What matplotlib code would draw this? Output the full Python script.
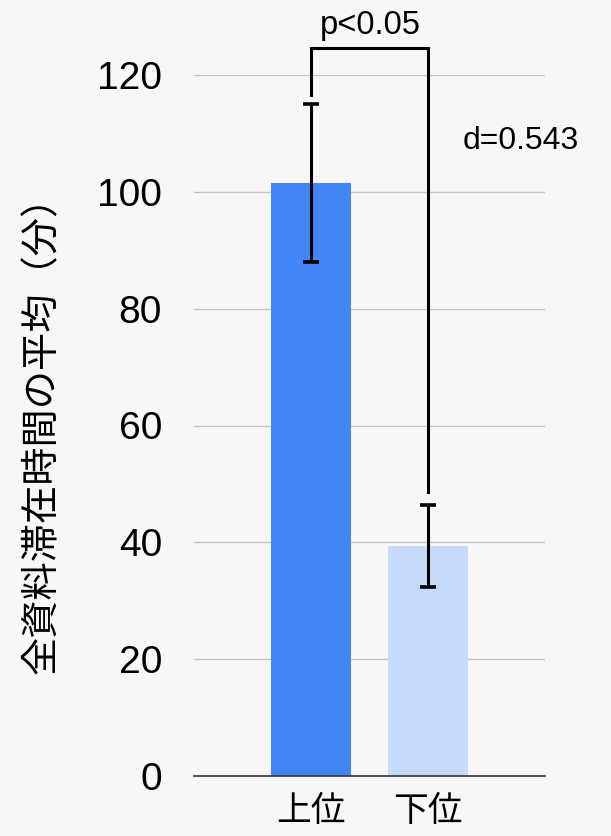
import matplotlib
matplotlib.use("Agg")
import matplotlib.pyplot as plt

plt.rcParams['font.family'] = ['Liberation Sans', 'Noto Sans CJK JP', 'DejaVu Sans']

# mean stay time per group, with error ranges
groups = ['上位', '下位']
means = [101.5, 39.4]
err_low = [88.0, 32.4]
err_high = [115.1, 46.4]
colors = ['#4285f4', '#c6dafc']

# significance bracket
bracket_top = 124.7
bracket_left_start = 116.6
bracket_right_end = 48.6
p_label = 'p<0.05'
d_label = 'd=0.543'

bg = '#f7f7f7'
fig = plt.figure(figsize=(6.11, 8.36), dpi=100, facecolor=bg)
ax = fig.add_axes([194 / 611, 1 - 776 / 836, 351 / 611, 701 / 836])
ax.set_facecolor(bg)

x = list(range(len(groups)))
ax.bar(x, means, width=0.68, color=colors, zorder=2)

yerr = [[m - lo for m, lo in zip(means, err_low)],
        [hi - m for m, hi in zip(means, err_high)]]
ax.errorbar(x, means, yerr=yerr, fmt='none', ecolor='black',
            elinewidth=2.2, capsize=5.5, capthick=2.6, zorder=3)

# bracket between the two groups
ax.plot([x[0], x[0], x[1], x[1]],
        [bracket_left_start, bracket_top, bracket_top, bracket_right_end],
        color='black', lw=2.2, clip_on=False, zorder=3,
        solid_joinstyle='miter')
ax.text((x[0] + x[1]) / 2 + 0.01, 127.0, p_label, ha='center', va='baseline',
        fontsize=23.5, clip_on=False)
ax.text(1.79, 107.4, d_label, ha='center', va='baseline', fontsize=23,
        clip_on=False)

ax.set_xlim(-1, 2)
ax.set_ylim(0, 120)
ax.set_yticks(range(0, 121, 20))
ax.yaxis.grid(True, color='#c4c4c4', lw=1)
ax.set_axisbelow(True)
for side in ['top', 'right', 'left']:
    ax.spines[side].set_visible(False)
ax.spines['bottom'].set_color('#333333')
ax.spines['bottom'].set_linewidth(1.2)
ax.spines['bottom'].set_zorder(4)
ax.tick_params(axis='both', length=0)
ax.tick_params(axis='y', labelsize=28, pad=23)
ax.set_xticks(x)
ax.set_xticklabels(groups, fontsize=25)
ax.tick_params(axis='x', pad=14)
ax.set_ylabel('全資料滞在時間の平均（分）', fontsize=27.5)
ax.yaxis.set_label_coords(-0.38, 0.5)

fig.savefig('out.png', dpi=100, facecolor=bg)
